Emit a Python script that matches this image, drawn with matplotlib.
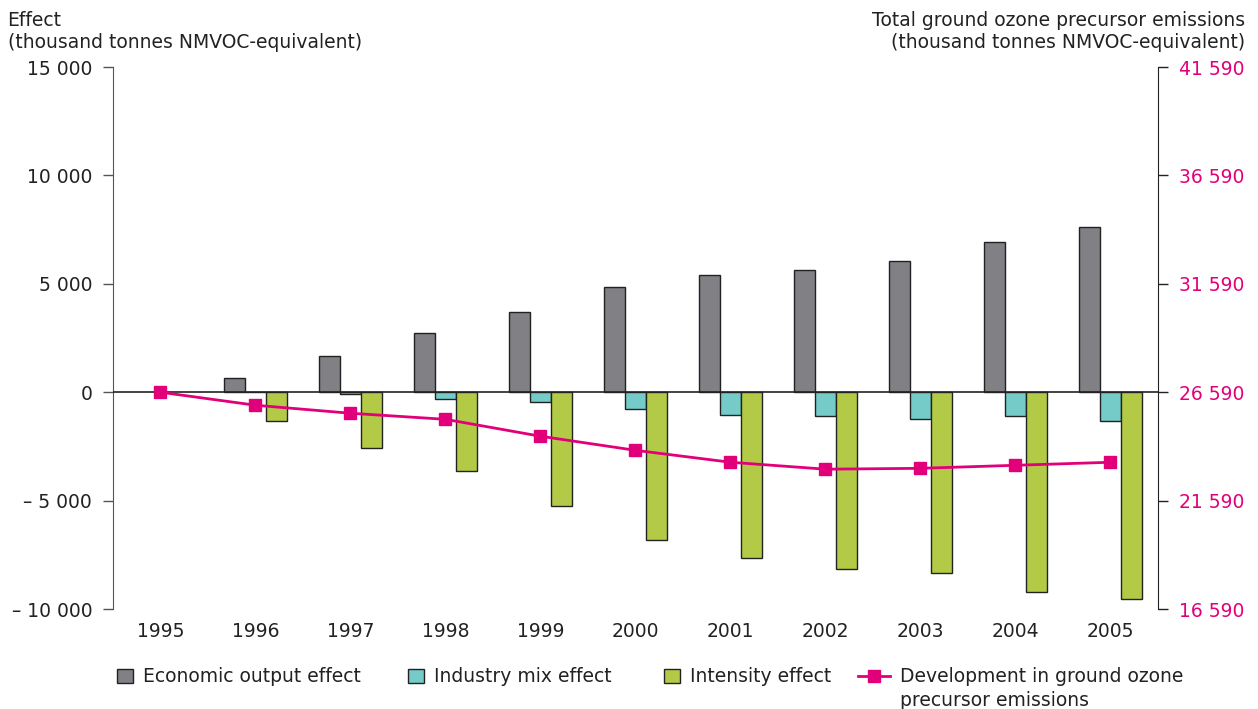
import numpy as np
import matplotlib.pyplot as plt
from matplotlib.patches import Patch
from matplotlib.lines import Line2D

plt.rcParams['font.family'] = ['DejaVu Sans']

years = ['1995', '1996', '1997', '1998', '1999', '2000', '2001', '2002', '2003', '2004', '2005']
economic = [0, 670, 1680, 2730, 3700, 4860, 5420, 5650, 6040, 6920, 7610]
industry = [0, 20, -90, -320, -460, -760, -1050, -1080, -1250, -1090, -1320]
intensity = [0, -1310, -2570, -3640, -5260, -6800, -7660, -8170, -8320, -9230, -9530]
emissions = [26590, 25990, 25620, 25340, 24560, 23910, 23360, 23040, 23080, 23220, 23360]

left_ticks = [-10000, -5000, 0, 5000, 10000, 15000]
right_ticks = [16590, 21590, 26590, 31590, 36590, 41590]

c_econ = '#808085'
c_ind = '#74cbc8'
c_int = '#b3ca47'
c_line = '#e2007a'
txt = '#222222'
fs = 13.5


def fmt(v):
    s = f"{abs(v):,}".replace(',', ' ')
    return ('\u2013 ' + s) if v < 0 else s


fig = plt.figure(figsize=(12.58, 7.09), dpi=100)
ax = fig.add_axes([0.0898, 0.141, 0.8307, 0.7645])
ax2 = ax.twinx()

x = np.arange(len(years))
w = 0.218
ax.bar(x[1:] - w, economic[1:], w, color=c_econ, edgecolor='#222222', linewidth=1)
ax.bar(x[1:], industry[1:], w, color=c_ind, edgecolor='#222222', linewidth=1)
ax.bar(x[1:] + w, intensity[1:], w, color=c_int, edgecolor='#222222', linewidth=1)
ax.axhline(0, color='#222222', lw=1.2, zorder=3)

ax2.plot(x, emissions, color=c_line, lw=2, marker='s', markersize=8.5, zorder=5)

ax.set_xlim(-0.5, 10.5)
ax.set_ylim(-10000, 15000)
ax2.set_ylim(16590, 41590)

ax.set_yticks(left_ticks)
ax.set_yticklabels([fmt(v) for v in left_ticks])
ax2.set_yticks(right_ticks)
ax2.set_yticklabels([fmt(v) for v in right_ticks])
ax.set_xticks(x)
ax.set_xticklabels(years)

for a in (ax, ax2):
    a.spines['top'].set_visible(False)
    a.spines['bottom'].set_visible(False)
ax.spines['right'].set_visible(False)
ax.spines['left'].set_color('#555555')
ax2.spines['left'].set_visible(False)
ax2.spines['right'].set_color('#222222')

ax.tick_params(axis='y', length=7, width=1, color='#555555', labelsize=fs, labelcolor=txt, pad=8)
ax.tick_params(axis='x', length=0, labelsize=fs, labelcolor=txt, pad=9)
ax2.tick_params(axis='y', length=7, width=1, color='#222222', labelsize=fs, labelcolor=c_line, pad=8)

fig.text(0.006, 0.985, 'Effect\n(thousand tonnes NMVOC-equivalent)', ha='left', va='top',
         fontsize=fs, color=txt, linespacing=1.2)
fig.text(0.9897, 0.985, 'Total ground ozone precursor emissions\n(thousand tonnes NMVOC-equivalent)',
         ha='right', va='top', fontsize=fs, color=txt, linespacing=1.2, multialignment='right')

# legend, one entry at a time so each sits where the original has it
entries = [
    (Patch(facecolor=c_econ, edgecolor='#222222'), 'Economic output effect', 117, 0.85),
    (Patch(facecolor=c_ind, edgecolor='#222222'), 'Industry mix effect', 408, 0.85),
    (Patch(facecolor=c_int, edgecolor='#222222'), 'Intensity effect', 664, 0.85),
    (Line2D([], [], color=c_line, lw=2, marker='s', markersize=8.5),
     'Development in ground ozone', 858, 1.7),
]
last = None
for h, lab, xp, hl in entries:
    last = fig.legend([h], [lab], loc='center left', bbox_to_anchor=(xp / 1258, 1 - 677 / 709),
                      frameon=False, fontsize=fs, handlelength=hl, handleheight=0.8,
                      handletextpad=0.55, borderpad=0, borderaxespad=0, labelcolor=txt)

fig.canvas.draw()
bb = last.get_texts()[0].get_window_extent().transformed(fig.transFigure.inverted())
fig.text(bb.x0, bb.y0 - 0.006, 'precursor emissions', ha='left', va='top', fontsize=fs, color=txt)

fig.savefig('out.png', dpi=100)
